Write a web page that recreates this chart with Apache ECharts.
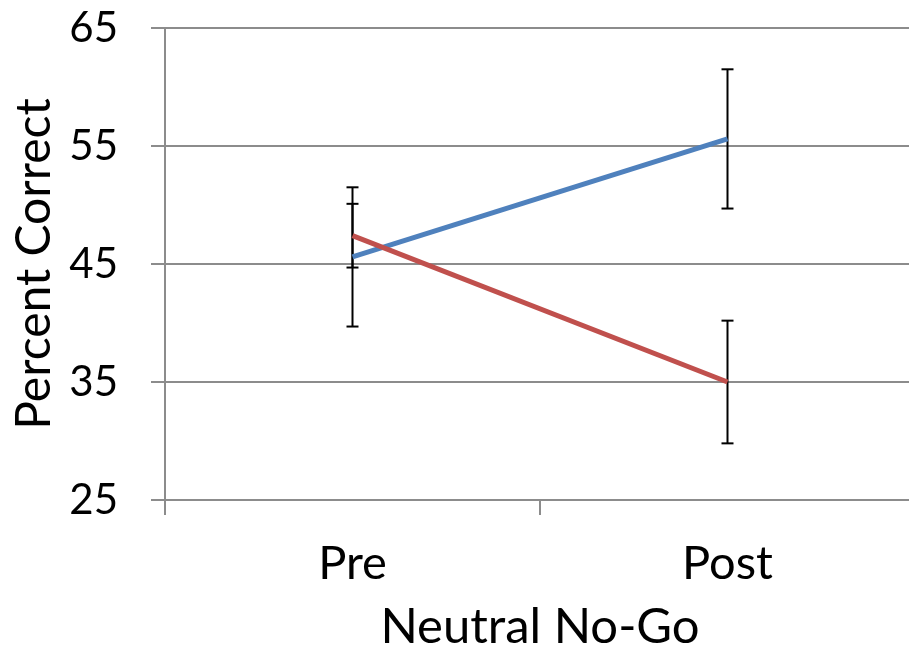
<!DOCTYPE html>
<html>
<head>
<meta charset="utf-8">
<script src="https://cdn.jsdelivr.net/npm/echarts@6/dist/echarts.min.js"></script>
<style>html,body{margin:0;padding:0;background:#fff;}#c{width:909px;height:651px;}</style>
</head>
<body>
<div id="c"></div>
<script>
var categories = ['Pre', 'Post'];
var blueMean = [45.6, 55.6];
var blueErr = [5.9, 5.9];
var redMean = [47.4, 35.0];
var redErr = [2.7, 5.2];
var yTicks = [25, 35, 45, 55, 65];

var FONT = 'Lato';
var chart = echarts.init(document.getElementById('c'));

function errData(mean, err) {
  return mean.map(function (m, i) { return [i, m - err[i], m + err[i]]; });
}
function errRender(params, api) {
  var x = api.value(0);
  var lo = api.coord([x, api.value(1)]);
  var hi = api.coord([x, api.value(2)]);
  var w = 6;
  var st = { stroke: '#000', lineWidth: 2 };
  return {
    type: 'group',
    children: [
      { type: 'line', shape: { x1: lo[0], y1: lo[1], x2: hi[0], y2: hi[1] }, style: st },
      { type: 'line', shape: { x1: lo[0] - w, y1: lo[1], x2: lo[0] + w, y2: lo[1] }, style: st },
      { type: 'line', shape: { x1: hi[0] - w, y1: hi[1], x2: hi[0] + w, y2: hi[1] }, style: st }
    ]
  };
}

chart.setOption({
  animation: false,
  backgroundColor: '#fff',
  grid: { left: 165, right: -6, top: 28, bottom: 151, containLabel: false, outerBoundsMode: 'none' },
  xAxis: {
    type: 'category',
    data: categories,
    boundaryGap: true,
    name: 'Neutral No-Go',
    nameLocation: 'middle',
    nameGap: 103,
    nameTextStyle: { fontFamily: FONT, fontSize: 49, color: '#000' },
    axisLine: { lineStyle: { color: '#8c8c8c', width: 2 } },
    axisTick: { show: true, length: 15, lineStyle: { color: '#8c8c8c', width: 2 } },
    axisLabel: { fontFamily: FONT, fontSize: 47, color: '#000', margin: 40 },
    splitLine: { show: false }
  },
  yAxis: {
    type: 'value',
    min: 25, max: 65, interval: 10,
    name: 'Percent Correct',
    nameLocation: 'middle',
    nameGap: 106,
    nameRotate: 90,
    nameTextStyle: { fontFamily: FONT, fontSize: 48, color: '#000' },
    axisLine: { show: true, lineStyle: { color: '#8c8c8c', width: 2 } },
    axisTick: { show: true, length: 14, lineStyle: { color: '#8c8c8c', width: 2 } },
    axisLabel: { fontFamily: FONT, fontSize: 42, color: '#000', margin: 47,
      formatter: function (v) { return yTicks.indexOf(v) >= 0 ? String(v) : ''; } },
    splitLine: { show: true, lineStyle: { color: '#8c8c8c', width: 2 } }
  },
  series: [
    { type: 'custom', z: 1, renderItem: errRender, data: errData(blueMean, blueErr) },
    { type: 'custom', z: 1, renderItem: errRender, data: errData(redMean, redErr) },
    { type: 'line', z: 3, data: blueMean, showSymbol: false, symbol: 'none',
      lineStyle: { color: '#4F81BD', width: 5 }, itemStyle: { color: '#4F81BD' } },
    { type: 'line', z: 3, data: redMean, showSymbol: false, symbol: 'none',
      lineStyle: { color: '#C0504D', width: 5 }, itemStyle: { color: '#C0504D' } }
  ]
});
</script>
</body>
</html>
